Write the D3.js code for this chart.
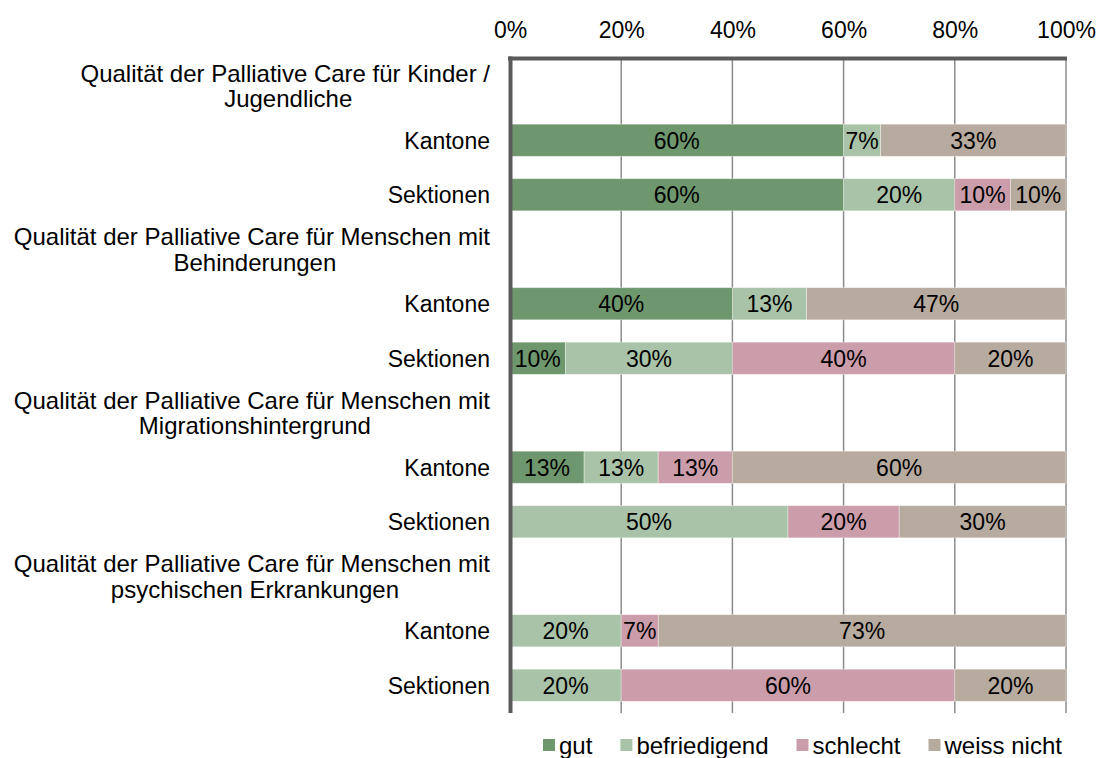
<!DOCTYPE html>
<html>
<head>
<meta charset="utf-8">
<script src="https://cdn.jsdelivr.net/npm/d3@7/dist/d3.min.js"></script>
<style>
  html, body { margin: 0; padding: 0; background: #fff; }
  svg { display: block; font-family: "Liberation Sans", Arial, sans-serif; }
</style>
</head>
<body>
<svg id="chart" width="1099" height="758"></svg>
<script>
// Survey answers on palliative care quality (shares in %)
const series = ["gut", "befriedigend", "schlecht", "weiss nicht"];
const colors = ["#6e976d", "#a9c3a8", "#cb9caa", "#b7aa9e"];

const groups = [
  ["Qualität der Palliative Care für Kinder /", "Jugendliche"],
  ["Qualität der Palliative Care für Menschen mit", "Behinderungen"],
  ["Qualität der Palliative Care für Menschen mit", "Migrationshintergrund"],
  ["Qualität der Palliative Care für Menschen mit", "psychischen Erkrankungen"]
];
const respondents = ["Kantone", "Sektionen"];

// values per group: [Kantone row, Sektionen row], each [gut, befriedigend, schlecht, weiss nicht]
const kinder        = [[60, 6.67, 0, 33.33], [60, 20, 10, 10]];
const behinderungen = [[40, 13.33, 0, 46.67], [10, 30, 40, 20]];
const migration     = [[13.33, 13.33, 13.33, 60], [0, 50, 20, 30]];
const psychisch     = [[0, 20, 6.67, 73.33], [0, 20, 60, 20]];
const groupValues = [kinder, behinderungen, migration, psychisch];

const tickValues = [0, 20, 40, 60, 80, 100];

const FS = 23;      // base font size
const FS_HEAD = 24; // group heading / legend font size

// Build the row list: one heading row followed by the two respondent rows
const rows = [];
groups.forEach((g, gi) => {
  rows.push({ type: "head", lines: g });
  respondents.forEach((r, ri) => rows.push({ type: "bar", label: r, values: groupValues[gi][ri] }));
});
rows.forEach((r, i) => r.idx = i);

const svg = d3.select("#chart");
const x = d3.scaleLinear().domain([0, 100]).range([510, 1066]);
const y = d3.scaleBand().domain(rows.map(r => r.idx)).range([58.5, 712.5])
  .paddingInner(0.41).paddingOuter(0.205);
const fmt = v => d3.format(".0%")(v / 100);
const color = d3.scaleOrdinal().domain(series).range(colors);

// vertical gridlines
svg.append("g").selectAll("line").data(tickValues.filter(t => t > 0)).join("line")
  .attr("x1", d => x(d)).attr("x2", d => x(d))
  .attr("y1", 58).attr("y2", 713)
  .attr("stroke", "#8c8c8c").attr("stroke-width", 1.5);

// top axis with percentage labels
const axis = d3.axisTop(x).tickValues(tickValues).tickSize(0).tickPadding(0)
  .tickFormat(d => d + "%");
const ax = svg.append("g").attr("transform", "translate(0,38)").call(axis);
ax.select(".domain").remove();
ax.selectAll("text").attr("font-size", FS).attr("fill", "#000")
  .attr("font-family", "Liberation Sans, Arial, sans-serif");

// stacked bars
const barRows = rows.filter(r => r.type === "bar");
const stacked = barRows.map(r => {
  let acc = 0;
  return r.values.map((v, k) => { const s = acc; acc += v; return { row: r.idx, key: series[k], v, x0: s, x1: acc }; });
});
const segs = svg.append("g").selectAll("g").data(stacked).join("g");
segs.selectAll("rect").data(d => d.filter(s => s.v > 0)).join("rect")
  .attr("x", d => x(d.x0)).attr("width", d => x(d.x1) - x(d.x0))
  .attr("y", d => y(d.row)).attr("height", y.bandwidth())
  .attr("fill", d => color(d.key))
  .attr("stroke", "rgba(255,255,255,0.45)").attr("stroke-width", 0.8);
segs.selectAll("text").data(d => d.filter(s => s.v > 0)).join("text")
  .attr("x", d => (x(d.x0) + x(d.x1)) / 2)
  .attr("y", d => y(d.row) + y.bandwidth() / 2)
  .attr("dy", "0.36em").attr("text-anchor", "middle")
  .attr("font-size", FS).attr("fill", "#000")
  .text(d => fmt(d.v));

// axis lines (top and left)
svg.append("line").attr("x1", 508).attr("x2", 1067).attr("y1", 58.5).attr("y2", 58.5)
  .attr("stroke", "#5a5a5a").attr("stroke-width", 4);
svg.append("line").attr("x1", 510.5).attr("x2", 510.5).attr("y1", 56.5).attr("y2", 713)
  .attr("stroke", "#5a5a5a").attr("stroke-width", 4);

// category labels
const labelX = 490;
barRows.forEach(r => {
  svg.append("text").attr("x", labelX).attr("y", y(r.idx) + y.bandwidth() / 2)
    .attr("dy", "0.36em").attr("text-anchor", "end").attr("font-size", FS).attr("fill", "#000")
    .text(r.label);
});
rows.filter(r => r.type === "head").forEach(r => {
  const cy = y(r.idx) + y.bandwidth() / 2;
  const t1 = svg.append("text").attr("x", labelX).attr("y", cy - 12.5)
    .attr("dy", "0.36em").attr("text-anchor", "end").attr("font-size", FS_HEAD).attr("fill", "#000")
    .text(r.lines[0]);
  const w = t1.node().getComputedTextLength();
  svg.append("text").attr("x", labelX - w / 2 + 3).attr("y", cy + 13)
    .attr("dy", "0.36em").attr("text-anchor", "middle").attr("font-size", FS_HEAD).attr("fill", "#000")
    .text(r.lines[1]);
});

// legend
const legend = svg.append("g");
let lx = 543;
series.forEach((s, i) => {
  legend.append("rect").attr("x", lx).attr("y", 739).attr("width", 12).attr("height", 12)
    .attr("fill", colors[i]);
  const t = legend.append("text").attr("x", lx + 16).attr("y", 745.5)
    .attr("dy", "0.36em").attr("font-size", FS_HEAD).attr("fill", "#000").text(s);
  lx += 16 + t.node().getComputedTextLength() + 28;
});
</script>
</body>
</html>
